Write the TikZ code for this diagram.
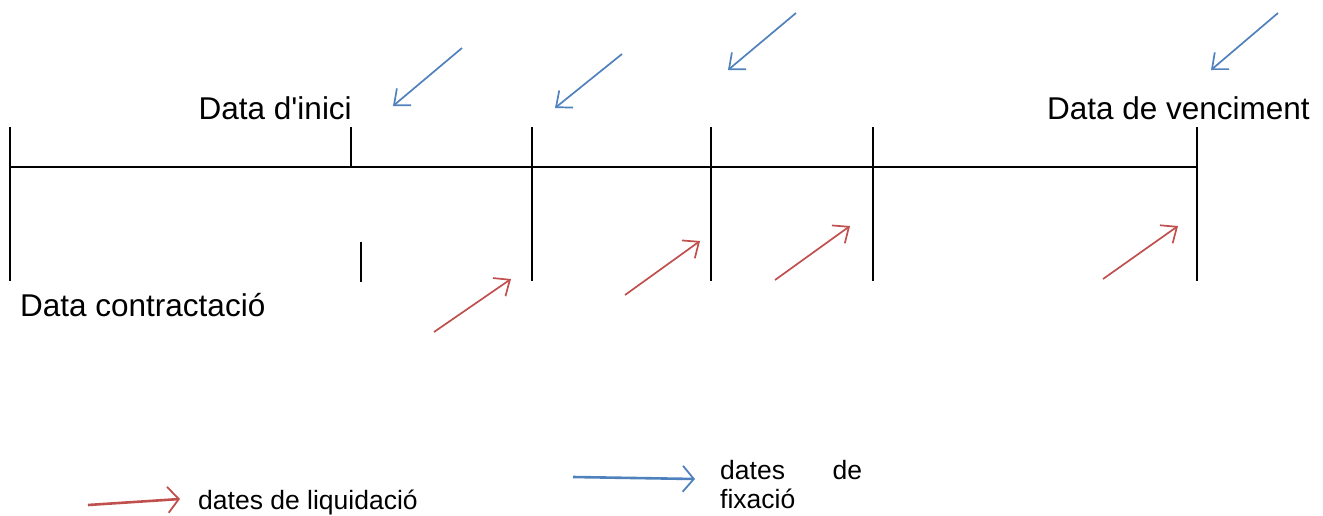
\documentclass[tikz,border=0pt]{standalone}
\usepackage{fontspec}
\setmainfont{Liberation Sans}
\usetikzlibrary{arrows.meta}
\definecolor{fixblue}{RGB}{79,129,189}
\definecolor{liqred}{RGB}{192,80,77}
\begin{document}
\begin{tikzpicture}[x=1pt,y=-1pt,
  axis/.style={line width=2pt,black},
  tick/.style={line width=2pt,black},
  fixarrow/.style={fixblue,line width=1.7pt,-{Straight Barb[length=13pt,width=22pt,line width=1.7pt]}},
  liqarrow/.style={liqred,line width=1.7pt,-{Straight Barb[length=13pt,width=22pt,line width=1.7pt]}},
  legarrow/.style={line width=2.6pt,-{Straight Barb[length=11pt,width=26pt,line width=1.8pt]}},
  biglabel/.style={inner sep=0pt,font=\fontsize{31.5}{36}\selectfont},
  smalllabel/.style={inner sep=0pt,font=\fontsize{26.5}{30}\selectfont,align=left}]
\useasboundingbox (0,0) rectangle (1323,515);
% axis
\coordinate (a0) at (10,167);
\coordinate (a1) at (1197,167);
\draw[axis] (a0) -- (a1);
% ticks
\foreach \n/\x in {t0/10,t3/532,t4/711,t5/873,t6/1197}{
  \coordinate (\n top) at (\x,127);
  \coordinate (\n bot) at (\x,281);
  \draw[tick] (\n top) -- (\n bot);
}
\coordinate (t1top) at (351,127);
\coordinate (t1bot) at (351,167);
\draw[tick] (t1top) -- (t1bot);
\coordinate (t2top) at (361,242);
\coordinate (t2bot) at (361,282);
\draw[tick] (t2top) -- (t2bot);
% labels
\node[biglabel,anchor=base east] (inici) at (352,119) {Data d\textquotesingle inici};
\node[biglabel,anchor=base east] (venc) at (1310,119) {Data de venciment};
\node[biglabel,anchor=base west] (contr) at (20,316) {Data contractació};
% fixing arrows (blue)
\coordinate (f1s) at (462,48);   \coordinate (f1e) at (393,106);
\coordinate (f2s) at (622,54);   \coordinate (f2e) at (555,108);
\coordinate (f3s) at (796,13);   \coordinate (f3e) at (728,70);
\coordinate (f4s) at (1278,13);  \coordinate (f4e) at (1211,70);
\foreach \i in {1,2,3,4}{\draw[fixarrow] (f\i s) -- (f\i e);}
% settlement arrows (red)
\coordinate (l1s) at (434,332);  \coordinate (l1e) at (511,279);
\coordinate (l2s) at (625,295);  \coordinate (l2e) at (700,241);
\coordinate (l3s) at (775,280);  \coordinate (l3e) at (850,226);
\coordinate (l4s) at (1103,279); \coordinate (l4e) at (1178,226);
\foreach \i in {1,2,3,4}{\draw[liqarrow] (l\i s) -- (l\i e);}
% legend
\coordinate (lgr s) at (88,505); \coordinate (lgr e) at (180,499);
\draw[liqarrow,legarrow] (lgr s) -- (lgr e);
\node[smalllabel,anchor=base west] (lgrtext) at (198,509) {dates de liquidació};
\coordinate (lgb s) at (573,477); \coordinate (lgb e) at (695,479);
\draw[fixarrow,legarrow] (lgb s) -- (lgb e);
\node[smalllabel,anchor=base west] (lgbtext1) at (720,479) {\hbox to 142pt{dates\hfill de}};
\node[smalllabel,anchor=base west] (lgbtext2) at (720,508) {fixació};
\end{tikzpicture}
\end{document}
